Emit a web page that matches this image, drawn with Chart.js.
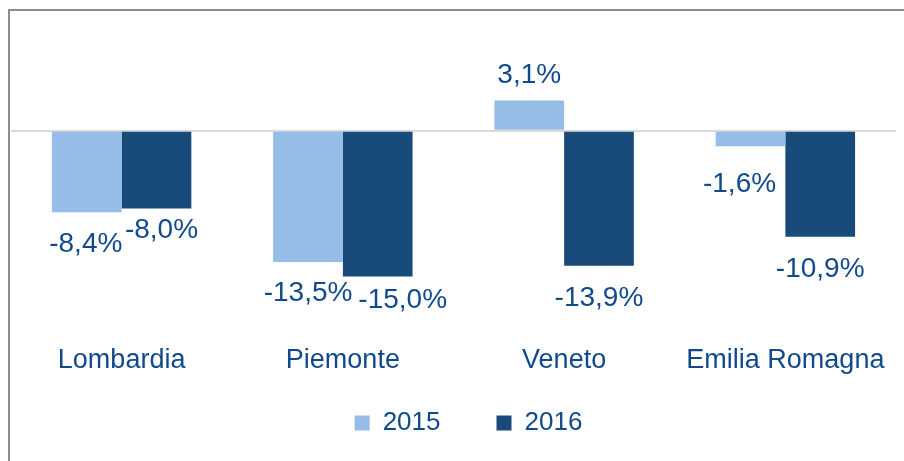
<!DOCTYPE html>
<html>
<head>
<meta charset="utf-8">
<script src="https://cdn.jsdelivr.net/npm/chart.js@4.4.1/dist/chart.umd.min.js"></script>
<style>
  html, body { margin: 0; padding: 0; background: #ffffff; overflow: hidden; }
  #wrap { position: relative; width: 904px; height: 461px; }
  #frame { position: absolute; left: 8px; top: 9px; width: 1000px; height: 1000px; border: 2px solid #8d8d8d; box-sizing: border-box; }
  #c { position: absolute; left: 0; top: 0; }
</style>
</head>
<body>
<div id="wrap">
  <div id="frame"></div>
  <canvas id="c" width="904" height="461"></canvas>
</div>
<script>
// ---- data ----
const categories = ['Lombardia', 'Piemonte', 'Veneto', 'Emilia Romagna'];
const seriesNames = ['2015', '2016'];
const values2015 = [-8.4, -13.5, 3.1, -1.6];
const values2016 = [-8.0, -15.0, -13.9, -10.9];
const yMin = -22;
const yMax = 12;

// ---- styling ----
const textColor = '#114A8C';
const color2015 = '#95BDE8';
const color2016 = '#184A7A';
const fontFamily = "'Liberation Sans', Arial, sans-serif";
// per-label nudges [dx, dy] (dy measured outward from bar end)
const labelNudges = [
  [[-1, 30], [0, 29], [0, 27], [-11, 36]],
  [[5, 20], [25, 22], [0, 30], [0, 30.5]]
];
const glyphBaselineFix = 2;

function fmt(v) {
  return v.toFixed(1).replace('.', ',') + '%';
}

const barLabels = {
  id: 'barLabels',
  afterDatasetsDraw(chart) {
    const ctx = chart.ctx;
    ctx.save();
    ctx.font = '28px ' + fontFamily;
    ctx.fillStyle = textColor;
    ctx.textAlign = 'center';
    ctx.textBaseline = 'middle';
    chart.data.datasets.forEach((ds, di) => {
      const meta = chart.getDatasetMeta(di);
      meta.data.forEach((bar, i) => {
        const v = ds.data[i];
        const n = labelNudges[di][i];
        const y = (v < 0 ? bar.y + n[1] : bar.y - n[1]) + glyphBaselineFix;
        ctx.fillText(fmt(v), bar.x + n[0], y);
      });
    });
    ctx.restore();
  }
};

const legendShift = {
  id: 'legendShift',
  afterLayout(chart) {
    const lg = chart.legend;
    if (lg) {
      lg.left += 15;
      lg.right += 15;
      lg.top -= 23;
      lg.bottom -= 23;
    }
  }
};

new Chart(document.getElementById('c'), {
  type: 'bar',
  data: {
    labels: categories,
    datasets: [
      { label: seriesNames[0], data: values2015, backgroundColor: color2015, borderWidth: 0 },
      { label: seriesNames[1], data: values2016, backgroundColor: color2016, borderWidth: 0 }
    ]
  },
  options: {
    responsive: false,
    animation: false,
    devicePixelRatio: 1,
    layout: { padding: { left: 11, right: 8, top: 14, bottom: 0 } },
    datasets: { bar: { categoryPercentage: 0.63, barPercentage: 1.0 } },
    scales: {
      x: {
        grid: { display: false, drawTicks: false },
        border: { display: false },
        ticks: {
          color: textColor,
          font: { family: fontFamily, size: 27 },
          padding: 0,
          maxRotation: 0,
          autoSkip: false
        }
      },
      y: {
        min: yMin,
        max: yMax,
        border: { display: false },
        ticks: { display: false, stepSize: 1 },
        grid: {
          drawTicks: false,
          color: (c) => (c.tick && c.tick.value === 0 ? '#d9d9d9' : 'rgba(0,0,0,0)'),
          lineWidth: (c) => (c.tick && c.tick.value === 0 ? 2 : 0)
        }
      }
    },
    plugins: {
      legend: {
        position: 'bottom',
        maxHeight: 84,
        labels: {
          color: textColor,
          font: { family: fontFamily, size: 26 },
          boxWidth: 15,
          boxHeight: 15,
          padding: 56
        }
      },
      tooltip: { enabled: false }
    }
  },
  plugins: [barLabels, legendShift]
});
</script>
</body>
</html>
